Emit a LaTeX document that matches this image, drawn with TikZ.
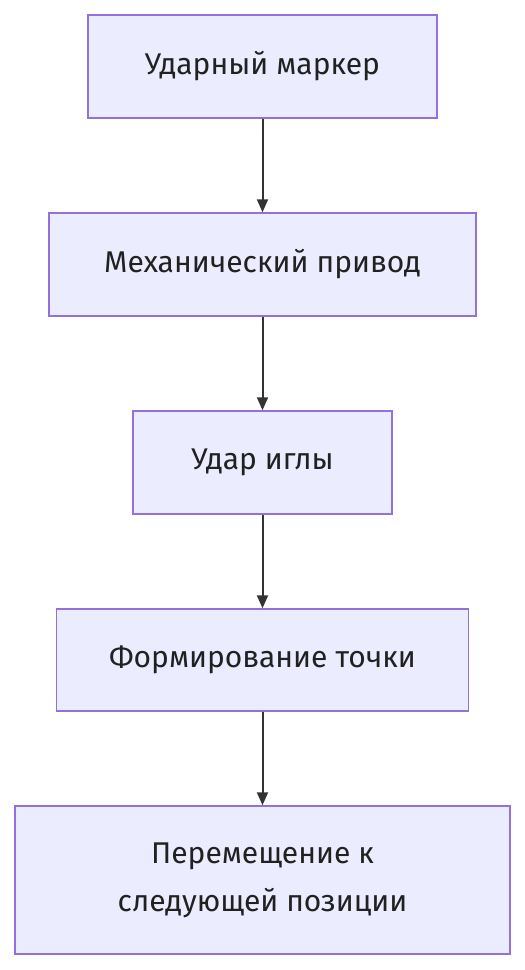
\documentclass[tikz,border=0pt]{standalone}
\usepackage{fontspec}
\setmainfont{Fira Sans}
\usetikzlibrary{arrows.meta}
\definecolor{boxfill}{HTML}{ECECFF}
\definecolor{boxline}{HTML}{9370DB}
\definecolor{arrowc}{HTML}{333333}
\begin{document}
\begin{tikzpicture}[x=1pt,y=-1pt,
  box/.style={draw=boxline,fill=boxfill,line width=1.5pt,inner sep=0pt,font=\fontsize{30}{48}\selectfont,text=black!87,align=center},
  conn/.style={draw=arrowc,line width=2pt,-{Triangle[length=13pt,width=11pt]}}]
\useasboundingbox (0,0) rectangle (525,970);
\node[box,minimum width=349pt,minimum height=103pt] (a) at (262.5,66.5) {Ударный маркер};
\node[box,minimum width=427pt,minimum height=103pt] (b) at (262.5,264.5) {Механический привод};
\node[box,minimum width=259pt,minimum height=103pt] (c) at (262.5,462.5) {Удар иглы};
\node[box,minimum width=412pt,minimum height=102pt] (d) at (262.5,660) {Формирование точки};
\node[box,minimum width=495pt,minimum height=148pt] (e) at (262.5,880) {Перемещение к\\следующей позиции};
\draw[conn] (a) -- (b);
\draw[conn] (b) -- (c);
\draw[conn] (c) -- (d);
\draw[conn] (d) -- (e);
\end{tikzpicture}
\end{document}
